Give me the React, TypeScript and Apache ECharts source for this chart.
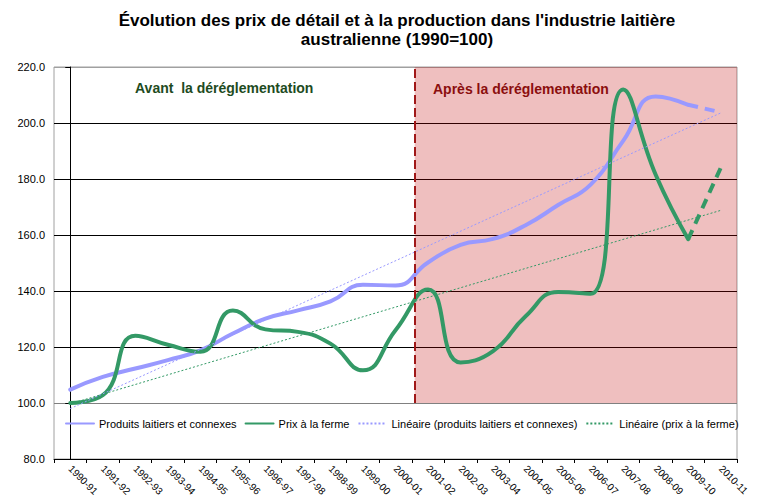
import React, { useEffect, useRef } from "react";
import * as echarts from "echarts";

const categories = [
  "1990-91", "1991-92", "1992-93", "1993-94", "1994-95", "1995-96", "1996-97",
  "1997-98", "1998-99", "1999-00", "2000-01", "2001-02", "2002-03", "2003-04",
  "2004-05", "2005-06", "2006-07", "2007-08", "2008-09", "2009-10", "2010-11",
];

// Produits laitiers et connexes (solid part, then dashed estimate)
const produitsSolid = [
  104.8, 109.3, 112.3, 115.3, 118.8, 124.8, 130.1, 133.1, 136.3, 142.2, 142.0,
  150.2, 156.5, 158.6, 163.5, 170.7, 178.0, 193.6, 209.5, 206.5, null,
];
const produitsDashed = [
  null, null, null, null, null, null, null, null, null, null, null,
  null, null, null, null, null, null, null, null, 206.5, 203.8,
];

// Prix à la ferme
const fermeSolid = [
  100.0, 102.8, 124.0, 120.8, 118.3, 133.0, 126.3, 125.4, 121.2, 111.7, 126.0,
  140.5, 114.5, 118.5, 131.0, 139.6, 139.0, 212.0, 181.5, 158.5, null,
];
const fermeDashed = [
  null, null, null, null, null, null, null, null, null, null, null,
  null, null, null, null, null, null, null, null, 158.5, 184.0,
];

// Linear trend lines (start / end values at first and last category)
const trendProduits = [98.0, 203.6];
const trendFerme = [99.7, 168.8];

// Deregulation boundary (position on the category index scale) and y range of the shaded zone
const deregulationAt = [10.59];
const zoneY = [100, 220];

const yTicks = { min: 80, max: 220, interval: 20 };

const FONT = "'Liberation Sans', Arial, sans-serif";
const PURPLE = "#9999ff";
const GREEN = "#339966";

export default function App() {
  const ref = useRef<HTMLDivElement>(null);

  useEffect(() => {
    if (!ref.current) return;
    const chart = echarts.init(ref.current, undefined, { renderer: "svg" });
    const last = categories.length - 1;

    const option: any = {
      animation: false,
      backgroundColor: "#ffffff",
      textStyle: { fontFamily: FONT },
      grid: {
        left: 54,
        right: 27,
        top: 67,
        bottom: 45,
        show: true,
        borderColor: "#a0a0a0",
        borderWidth: 1,
        backgroundColor: "transparent",
      },
      legend: {
        left: 65,
        top: 418,
        padding: 0,
        itemWidth: 28,
        itemHeight: 14,
        itemGap: 8,
        itemStyle: { opacity: 0, borderWidth: 0 },
        textStyle: { fontSize: 11, color: "#000", fontFamily: FONT },
        data: [
          { name: "Produits laitiers et connexes" },
          { name: "Prix à la ferme" },
          { name: "Linéaire (produits laitiers et connexes)" },
          { name: "Linéaire (prix à la ferme)" },
        ],
      },
      xAxis: [
        {
          type: "category",
          data: categories,
          boundaryGap: true,
          axisLine: { show: true, lineStyle: { color: "#000", width: 1 } },
          axisTick: { show: true, interval: 0, length: 4, lineStyle: { color: "#000" } },
          axisLabel: {
            interval: 0,
            rotate: -45,
            margin: 8,
            fontSize: 10,
            color: "#000",
            fontFamily: FONT,
          },
          splitLine: { show: false },
        },
        {
          type: "value",
          min: -0.5,
          max: last + 0.5,
          show: false,
          position: "bottom",
          splitLine: { show: false },
        },
      ],
      yAxis: {
        type: "value",
        min: yTicks.min,
        max: yTicks.max,
        interval: yTicks.interval,
        axisLine: { show: true, lineStyle: { color: "#000", width: 1 } },
        axisTick: { show: true, length: 5, lineStyle: { color: "#000" } },
        axisLabel: {
          fontSize: 11,
          color: "#000",
          margin: 9,
          fontFamily: FONT,
          formatter: (v: number) => v.toFixed(1),
        },
        splitLine: {
          show: true,
          lineStyle: {
            color: ["#000", "#808080", "#000", "#000", "#000", "#000", "#000", "#a0a0a0"],
            width: 1,
          },
        },
      },
      series: [
        {
          name: "Produits laitiers et connexes",
          type: "line",
          data: produitsSolid,
          smooth: 0.5,
          symbol: "none",
          z: 2,
          lineStyle: { color: PURPLE, width: 4, cap: "round" },
          itemStyle: { color: PURPLE },
        },
        {
          name: "Prix à la ferme",
          type: "line",
          data: fermeSolid,
          smooth: 0.5,
          symbol: "none",
          z: 3,
          lineStyle: { color: GREEN, width: 4, cap: "round" },
          itemStyle: { color: GREEN },
        },
        {
          name: "Produits (estimation)",
          type: "line",
          data: produitsDashed,
          symbol: "none",
          z: 2,
          lineStyle: { color: PURPLE, width: 4, type: [10, 7] },
          itemStyle: { color: PURPLE },
        },
        {
          name: "Ferme (estimation)",
          type: "line",
          data: fermeDashed,
          symbol: "none",
          z: 3,
          lineStyle: { color: GREEN, width: 4, type: [10, 7] },
          itemStyle: { color: GREEN },
        },
        {
          name: "Linéaire (produits laitiers et connexes)",
          type: "line",
          xAxisIndex: 1,
          data: [
            [0, trendProduits[0]],
            [last, trendProduits[1]],
          ],
          symbol: "none",
          z: 4,
          lineStyle: { color: PURPLE, width: 1, type: [2, 2] },
          itemStyle: { color: PURPLE },
        },
        {
          name: "Linéaire (prix à la ferme)",
          type: "line",
          xAxisIndex: 1,
          data: [
            [0, trendFerme[0]],
            [last, trendFerme[1]],
          ],
          symbol: "none",
          z: 4,
          lineStyle: { color: GREEN, width: 1, type: [2, 2] },
          itemStyle: { color: GREEN },
        },
        {
          name: "zone",
          type: "line",
          xAxisIndex: 1,
          data: [],
          z: 10,
          silent: true,
          markArea: {
            silent: true,
            itemStyle: { color: "rgba(192,0,0,0.25)" },
            data: [
              [
                { coord: [deregulationAt[0], zoneY[1]] },
                { coord: [last + 0.5, zoneY[0]] },
              ],
            ],
          },
          markLine: {
            silent: true,
            symbol: ["none", "none"],
            label: { show: false },
            lineStyle: { color: "#a01818", width: 2, type: [9, 4] },
            data: [
              [
                { coord: [deregulationAt[0], zoneY[0]] },
                { coord: [deregulationAt[0], zoneY[1]] },
              ],
            ],
          },
        },
      ],
      graphic: [
        {
          type: "text",
          x: 397,
          y: 20,
          z: 100,
          style: {
            text: "Évolution des prix de détail et à la production dans l'industrie laitière",
            font: `bold 17px ${FONT}`,
            fill: "#000",
            textAlign: "center",
            textVerticalAlign: "middle",
          },
        },
        {
          type: "text",
          x: 397,
          y: 39,
          z: 100,
          style: {
            text: "australienne (1990=100)",
            font: `bold 17px ${FONT}`,
            fill: "#000",
            textAlign: "center",
            textVerticalAlign: "middle",
          },
        },
        {
          type: "text",
          x: 135,
          y: 88,
          z: 100,
          style: {
            text: "Avant  la déréglementation",
            font: `bold 14px ${FONT}`,
            fill: "#1e4b1e",
            textAlign: "left",
            textVerticalAlign: "middle",
          },
        },
        {
          type: "text",
          x: 433,
          y: 89,
          z: 100,
          style: {
            text: "Après la déréglementation",
            font: `bold 14px ${FONT}`,
            fill: "#8b0e0e",
            textAlign: "left",
            textVerticalAlign: "middle",
          },
        },
      ],
    };

    chart.setOption(option);
    return () => chart.dispose();
  }, []);

  return <div ref={ref} style={{ width: 764, height: 504, margin: -8 }} />;
}
